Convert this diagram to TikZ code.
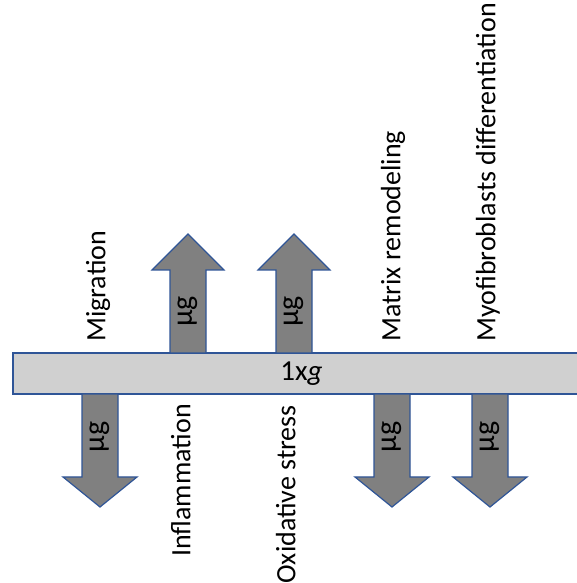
\documentclass[tikz,border=0pt]{standalone}
\usepackage{fontspec}
\setmainfont{Carlito}
\usepackage{tikz}
\definecolor{edgeblue}{RGB}{47,85,151}
\definecolor{bargray}{RGB}{208,208,208}
\definecolor{arrowgray}{RGB}{128,128,128}
\tikzset{
    platebar/.style={rectangle, draw=edgeblue, fill=bargray, line width=1.2pt,
        minimum width=577pt, minimum height=41pt, inner sep=0pt,
        font=\fontsize{29}{32}\selectfont},
    blockarrow/.style={draw=edgeblue, fill=arrowgray, line width=1.2pt, line join=miter},
    dose/.style={rotate=90, inner sep=0pt, font=\fontsize{30}{32}\selectfont},
    effect/.style={rotate=90, inner sep=0pt, font=\fontsize{28}{32}\selectfont}
}

\begin{document}
\begin{tikzpicture}[x=1pt, y=1pt]
    \clip (0,0) rectangle (577,583);

    % ---------- gravity plate ----------
    \node[platebar] (plate) at (301.5,209.5) {1x\textit{g}};

    % ---------- up: Inflammation ----------
    \begin{scope}[shift={(188,230)}]
        \draw[blockarrow] (-18,0) -- (-18,83) -- (-36,83) -- (0,119)
            -- (36,83) -- (18,83) -- (18,0) -- cycle;
        \node[dose] (ug2) at (0,41.5) {μg};
    \end{scope}

    % ---------- up: Oxidative stress ----------
    \begin{scope}[shift={(294,230)}]
        \draw[blockarrow] (-18,0) -- (-18,83) -- (-36,83) -- (0,119)
            -- (36,83) -- (18,83) -- (18,0) -- cycle;
        \node[dose] (ug3) at (0,41.5) {μg};
    \end{scope}

    % ---------- down: Migration ----------
    \begin{scope}[shift={(100,189)}]
        \draw[blockarrow] (-18,0) -- (-18,-83) -- (-37,-83) -- (0,-113)
            -- (37,-83) -- (18,-83) -- (18,0) -- cycle;
        \node[dose] (ug1) at (0,-43) {μg};
    \end{scope}

    % ---------- down: Matrix remodeling ----------
    \begin{scope}[shift={(392,189)}]
        \draw[blockarrow] (-18,0) -- (-18,-83) -- (-37,-83) -- (0,-113)
            -- (37,-83) -- (18,-83) -- (18,0) -- cycle;
        \node[dose] (ug4) at (0,-43) {μg};
    \end{scope}

    % ---------- down: Myofibroblasts ----------
    \begin{scope}[shift={(490,189)}]
        \draw[blockarrow] (-18,0) -- (-18,-83) -- (-37,-83) -- (0,-113)
            -- (37,-83) -- (18,-83) -- (18,0) -- cycle;
        \node[dose] (ug5) at (0,-43) {μg};
    \end{scope}

    % ---------- effects ----------
    \node[effect, anchor=mid west] (migr) at (103,241) {Migration};
    \node[effect, anchor=mid east] (infl) at (188,179) {Inflammation};
    \node[effect, anchor=mid east] (oxid) at (293,178) {Oxidative stress};
    \node[effect, anchor=mid west] (matr) at (398,241) {Matrix remodeling};
    \node[effect, anchor=mid west] (myof) at (493,241) {Myofibroblasts differentiation};
\end{tikzpicture}
\end{document}
